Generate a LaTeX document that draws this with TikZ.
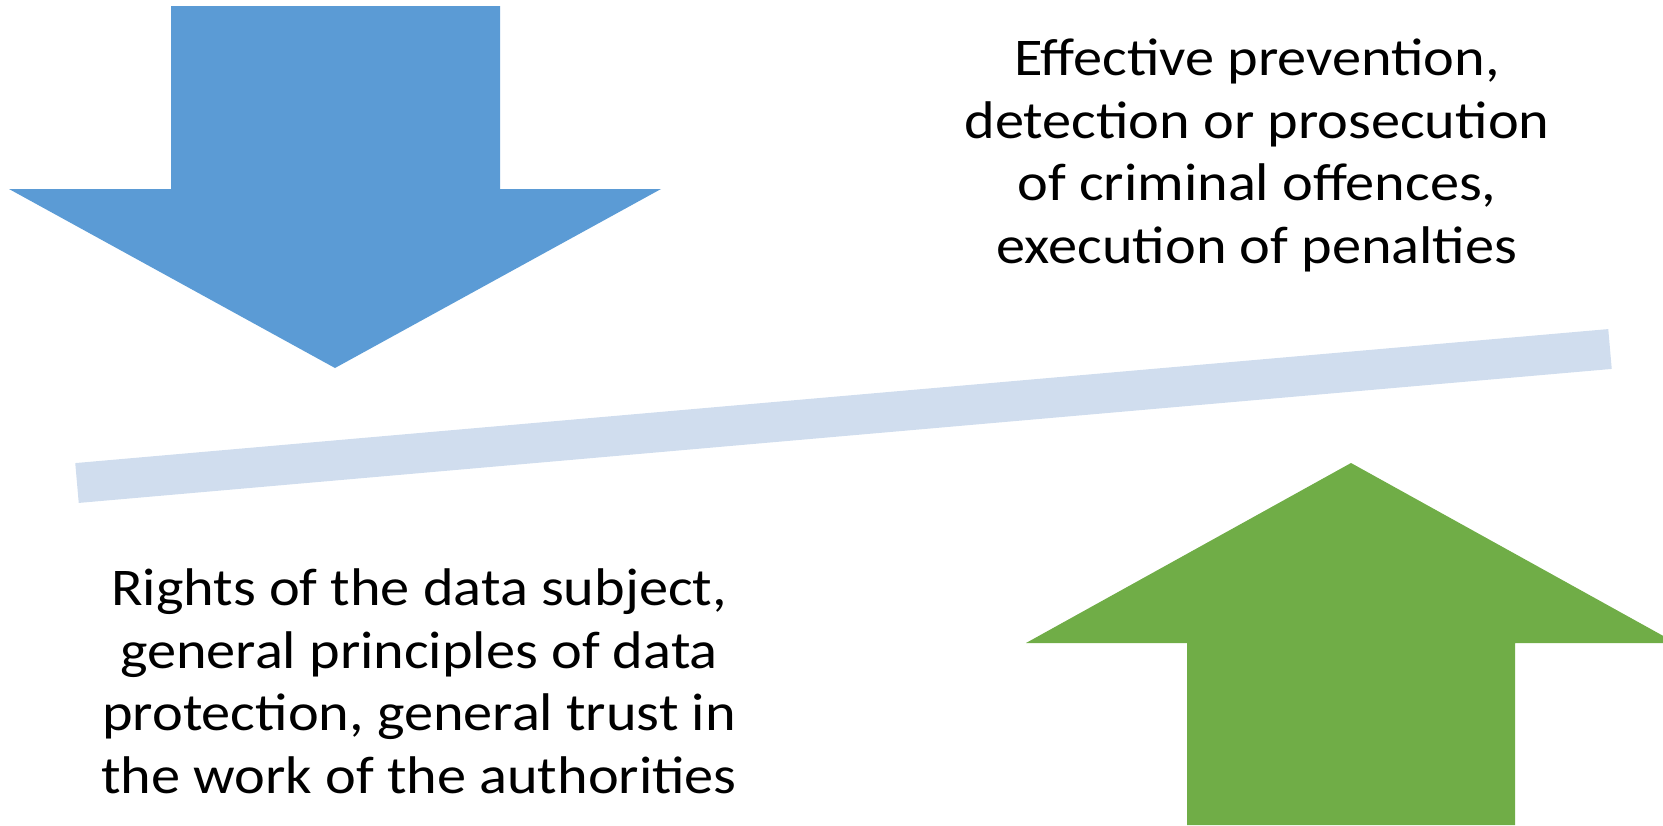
\documentclass[tikz,border=0pt]{standalone}
\usepackage{fontspec}
\setmainfont[FakeStretch=1.1]{Carlito}
\definecolor{arrowblue}{HTML}{5B9BD5}
\definecolor{arrowgreen}{HTML}{70AD47}
\definecolor{beamblue}{HTML}{D0DDEE}
\begin{document}
\begin{tikzpicture}[x=1pt,y=-1pt,
  label text/.style={align=center, inner sep=0pt, anchor=base,
    font=\fontsize{53}{62.5}\selectfont}]
\useasboundingbox (0,0) rectangle (1663,825);
% downward pressure arrow
\fill[arrowblue] (171,6) -- (500,6) -- (500,189) -- (661,189) -- (335,368)
  -- (9,189) -- (171,189) -- cycle;
% upward pressure arrow
\fill[arrowgreen] (1187,825) -- (1187,643) -- (1026,643) -- (1351,463)
  -- (1676,643) -- (1515,643) -- (1515,825) -- cycle;
% tilted balance beam
\coordinate (beamL) at (77,483);
\coordinate (beamR) at (1610,349);
\draw[beamblue, line width=40pt] (beamL) -- (beamR);
% labels (anchored at the baseline of their last line)
\node[label text] (top) at (1257,263) {Effective prevention,\\detection or prosecution\\of criminal offences,\\execution of penalties};
\node[label text] (bottom) at (419,793) {Rights of the data subject,\\general principles of data\\protection, general trust in\\the work of the authorities};
\end{tikzpicture}
\end{document}
